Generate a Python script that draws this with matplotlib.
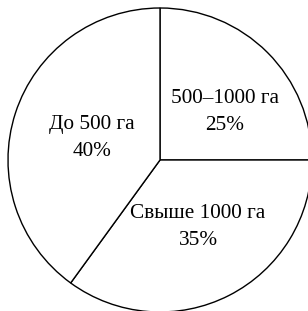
import matplotlib
matplotlib.use("Agg")
import matplotlib.pyplot as plt

categories = ["500–1000 га", "Свыше 1000 га", "До 500 га"]
values = [25, 35, 40]

W, H = 308, 311
fig = plt.figure(figsize=(W / 100, H / 100), dpi=100)
ax = fig.add_axes([0, 0, 1, 1])

cx, cy, r = 160, H - 160, 152
wedges, _ = ax.pie(values, center=(cx, cy), radius=r, startangle=90, counterclock=False,
                   colors=["white"] * 3,
                   wedgeprops=dict(edgecolor="black", linewidth=1.0))
ax.set_xlim(0, W)
ax.set_ylim(0, H)
ax.set_aspect("equal")
ax.axis("off")

label_pos = [(225, 112), (198, 227), (92, 138)]
for cat, v, (x, y) in zip(categories, values, label_pos):
    ax.text(x, H - y, f"{cat}\n{v}%", ha="center", va="center", fontsize=15.3,
            family="Liberation Serif", linespacing=1.6)

fig.savefig("out.png", dpi=100)
